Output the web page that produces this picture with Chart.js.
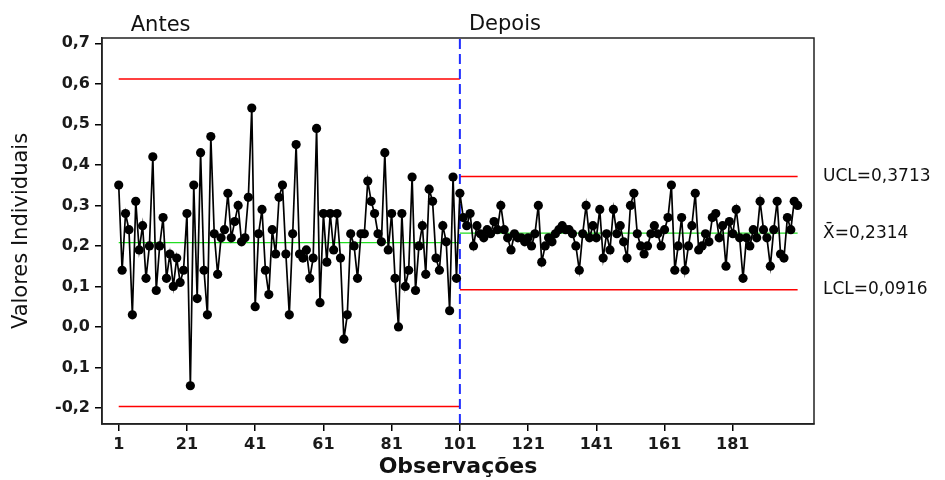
<!DOCTYPE html>
<html lang="pt">
<head>
    <meta charset="UTF-8">
    <title>Carta de Valores Individuais</title>
    <script src="https://cdn.jsdelivr.net/npm/chart.js"></script>
    <style>
        body { margin: 0; background: #fff; }
    </style>
</head>
<body>
    <canvas id="cartaI" width="945" height="480"></canvas>
    <script>
        // valores (observações 1-100 e 101-200)
        const antes = [
            0.35, 0.14, 0.28, 0.24, 0.03, 0.31, 0.19, 0.25, 0.12, 0.20,
            0.42, 0.09, 0.20, 0.27, 0.12, 0.18, 0.10, 0.17, 0.11, 0.14,
            0.28, -0.145, 0.35, 0.07, 0.43, 0.14, 0.03, 0.47, 0.23, 0.13,
            0.22, 0.24, 0.33, 0.22, 0.26, 0.30, 0.21, 0.22, 0.32, 0.54,
            0.05, 0.23, 0.29, 0.14, 0.08, 0.24, 0.18, 0.32, 0.35, 0.18,
            0.03, 0.23, 0.45, 0.18, 0.17, 0.19, 0.12, 0.17, 0.49, 0.06,
            0.28, 0.16, 0.28, 0.19, 0.28, 0.17, -0.03, 0.03, 0.23, 0.20,
            0.12, 0.23, 0.23, 0.36, 0.31, 0.28, 0.23, 0.21, 0.43, 0.19,
            0.28, 0.12, 0.00, 0.28, 0.10, 0.14, 0.37, 0.09, 0.20, 0.25,
            0.13, 0.34, 0.31, 0.17, 0.14, 0.25, 0.21, 0.04, 0.37, 0.12
        ];
        const depois = [
            0.33, 0.27, 0.25, 0.28, 0.20, 0.25, 0.23, 0.22, 0.24, 0.23,
            0.26, 0.24, 0.30, 0.24, 0.22, 0.19, 0.23, 0.22, 0.22, 0.21,
            0.22, 0.20, 0.23, 0.30, 0.16, 0.20, 0.22, 0.21, 0.23, 0.24,
            0.25, 0.24, 0.24, 0.23, 0.20, 0.14, 0.23, 0.30, 0.22, 0.25,
            0.22, 0.29, 0.17, 0.23, 0.19, 0.29, 0.23, 0.25, 0.21, 0.17,
            0.30, 0.33, 0.23, 0.20, 0.18, 0.20, 0.23, 0.25, 0.23, 0.20,
            0.24, 0.27, 0.35, 0.14, 0.20, 0.27, 0.14, 0.20, 0.25, 0.33,
            0.19, 0.20, 0.23, 0.21, 0.27, 0.28, 0.22, 0.25, 0.15, 0.26,
            0.23, 0.29, 0.22, 0.12, 0.22, 0.20, 0.24, 0.22, 0.31, 0.24,
            0.22, 0.15, 0.24, 0.31, 0.18, 0.17, 0.27, 0.24, 0.31, 0.30
        ];

        // limites: [LSC, média, LIC]
        const limitesAntes = [0.612, 0.208, -0.196];
        const limitesDepois = [0.3713, 0.2314, 0.0916];
        const rotulosDepois = ['UCL=0,3713', 'X\u0304=0,2314', 'LCL=0,0916'];

        const ticksX = [1, 21, 41, 61, 81, 101, 121, 141, 161, 181];
        const ticksY = [-0.2, -0.1, 0.0, 0.1, 0.2, 0.3, 0.4, 0.5, 0.6, 0.7];
        const rotulosY = ['-0,2', '0,1', '0,0', '0,1', '0,2', '0,3', '0,4', '0,5', '0,6', '0,7'];

        const inicioAntes = 1, inicioDepois = 101, fim = 200;
        const yMin = -0.2394, yMax = 0.713;

        const valores = antes.concat(depois);
        const pontos = valores.map((v, i) => ({ x: i + 1, y: v }));

        function segmento(x0, x1, y) {
            return [{ x: x0, y: y }, { x: x1, y: y }];
        }
        function linhaLimite(dados, cor) {
            return {
                data: dados, borderColor: cor, borderWidth: cor === 'red' ? 1.5 : 1.2,
                pointRadius: 0, tension: 0, order: 2
            };
        }

        const datasets = [{
            label: 'Valores Individuais',
            data: pontos,
            borderColor: '#000',
            borderWidth: 1.7,
            pointRadius: 4.6,
            pointBackgroundColor: '#000',
            pointBorderColor: '#000',
            pointBorderWidth: 0,
            tension: 0,
            order: 0
        }];
        [limitesAntes, limitesDepois].forEach((lim, k) => {
            const x0 = k === 0 ? inicioAntes : inicioDepois;
            const x1 = k === 0 ? inicioDepois : fim;
            datasets.push(linhaLimite(segmento(x0, x1, lim[0]), 'red'));
            datasets.push(linhaLimite(segmento(x0, x1, lim[1]), '#22dd22'));
            datasets.push(linhaLimite(segmento(x0, x1, lim[2]), 'red'));
        });
        datasets.push({
            data: [{ x: inicioDepois, y: yMin }, { x: inicioDepois, y: yMax }],
            borderColor: '#1f2dff',
            borderWidth: 2,
            borderDash: [10, 5],
            pointRadius: 0,
            order: 1
        });

        const textos = {
            id: 'textos',
            afterDraw(chart) {
                const ctx = chart.ctx;
                const area = chart.chartArea;
                const xs = chart.scales.x, ys = chart.scales.y;
                ctx.save();
                // moldura
                ctx.strokeStyle = '#222';
                ctx.lineWidth = 1.5;
                ctx.strokeRect(area.left, area.top, area.right - area.left, area.bottom - area.top);

                ctx.fillStyle = '#111';
                ctx.font = '21px "DejaVu Sans"';
                ctx.textBaseline = 'alphabetic';
                ctx.fillText('Antes', xs.getPixelForValue(inicioAntes) + 12, 31);
                ctx.fillText('Depois', xs.getPixelForValue(inicioDepois) + 9, 30);

                ctx.font = '17px "DejaVu Sans"';
                ctx.textBaseline = 'middle';
                limitesDepois.forEach((v, i) => {
                    ctx.fillText(rotulosDepois[i], area.right + 9, ys.getPixelForValue(v));
                });
                ctx.restore();
            }
        };

        const ctx = document.getElementById('cartaI').getContext('2d');
        new Chart(ctx, {
            type: 'line',
            data: { datasets: datasets },
            options: {
                responsive: false,
                animation: false,
                layout: { padding: { top: 38, right: 131, left: 0, bottom: 0 } },
                plugins: {
                    legend: { display: false },
                    tooltip: { enabled: false }
                },
                scales: {
                    x: {
                        type: 'linear',
                        min: -3.9,
                        max: 204.8,
                        afterBuildTicks: s => { s.ticks = ticksX.map(v => ({ value: v })); },
                        afterFit: s => { s.height = 56; },
                        grid: { drawOnChartArea: false, drawTicks: true, tickLength: 7, tickColor: '#000', lineWidth: 1.5 },
                        border: { display: true, color: '#222', width: 1.5 },
                        ticks: {
                            autoSkip: false, maxRotation: 0, padding: 4, color: '#1a1a1a',
                            font: { family: 'DejaVu Sans', size: 16, weight: 'bold' },
                            callback: v => String(v)
                        },
                        title: {
                            display: true, text: 'Observações', color: '#111',
                            font: { family: 'DejaVu Sans', size: 22, weight: 'bold' },
                            padding: { top: 0, bottom: 0 }
                        }
                    },
                    y: {
                        min: yMin,
                        max: yMax,
                        afterBuildTicks: s => { s.ticks = ticksY.map(v => ({ value: v })); },
                        afterFit: s => { s.width = 102; },
                        grid: { drawOnChartArea: false, drawTicks: true, tickLength: 7, tickColor: '#000', lineWidth: 1.5 },
                        border: { display: true, color: '#222', width: 1.5 },
                        ticks: {
                            padding: 5, color: '#1a1a1a',
                            font: { family: 'DejaVu Sans', size: 16, weight: 'bold' },
                            callback: (v, i) => rotulosY[i]
                        },
                        title: {
                            display: true, text: 'Valores Individuais', color: '#111',
                            font: { family: 'DejaVu Sans', size: 21 },
                            padding: { top: 9, bottom: 0 }
                        }
                    }
                }
            },
            plugins: [textos]
        });
    </script>
</body>
</html>
